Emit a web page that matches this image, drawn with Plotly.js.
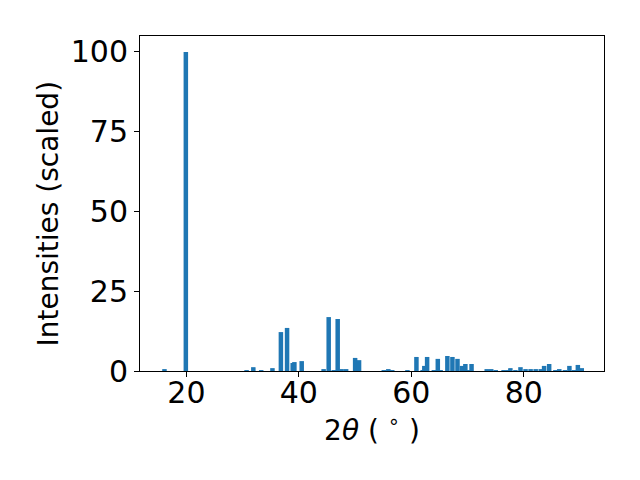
<!DOCTYPE html>
<html>
<head>
<meta charset="utf-8">
<script src="https://cdn.plot.ly/plotly-3.0.1.min.js"></script>
<style>html,body{margin:0;padding:0;background:#fff;}#chart{width:640px;height:480px;}</style>
</head>
<body>
<div id="chart"></div>
<script>
var twoTheta = [16.1, 19.9, 30.7, 31.9, 33.3, 35.3, 36.8, 37.9, 38.9, 39.2, 40.5, 44.4, 45.3, 46.2, 46.9, 47.6, 48.4, 50.0, 50.7, 55.1, 55.9, 56.6, 59.3, 60.9, 62.0, 62.3, 62.8, 64.0, 64.7, 65.2, 66.4, 67.3, 68.2, 69.0, 69.6, 70.1, 70.7, 73.4, 74.2, 75.0, 76.4, 77.1, 77.6, 78.5, 79.4, 80.3, 81.2, 82.1, 83.0, 83.6, 84.5, 85.6, 86.3, 87.3, 88.1, 88.9, 89.6, 90.3];
var intensities = [0.6, 100, 0.3, 1.2, 0.3, 0.9, 12.2, 13.5, 2.5, 2.8, 3.1, 0.6, 16.9, 0.3, 16.3, 0.6, 0.6, 4.1, 3.4, 0.3, 0.6, 0.3, 0.3, 4.4, 0.3, 1.6, 4.4, 0.3, 3.8, 0.3, 4.7, 4.4, 3.8, 1.6, 2.2, 0.3, 2.2, 0.6, 0.6, 0.3, 0.3, 0.3, 0.9, 0.3, 1.2, 0.6, 0.6, 0.6, 0.6, 1.6, 2.2, 0.3, 0.6, 0.3, 1.6, 0.3, 1.9, 0.9];
var xTicks = [20, 40, 60, 80];
var yTicks = [0, 25, 50, 75, 100];
var xLabel = '2<i>θ</i> ( <sup>∘</sup> )';
var yLabel = 'Intensities (scaled)';

var trace = {
  type: 'bar',
  x: twoTheta,
  y: intensities,
  width: 0.8,
  marker: {color: '#1f77b4', line: {width: 0}},
  hoverinfo: 'x+y'
};
var fontFam = 'DejaVu Sans, sans-serif';
var layout = {
  width: 640, height: 480,
  margin: {l: 140, r: 36, t: 36, b: 109, pad: 0},
  paper_bgcolor: '#fff', plot_bgcolor: '#fff',
  showlegend: false,
  barmode: 'overlay',
  font: {family: fontFam, color: '#000', size: 30},
  xaxis: {
    range: [11.75, 94.25],
    tickvals: xTicks, ticktext: xTicks.map(String),
    ticks: 'outside', ticklen: 5, tickwidth: 1, tickcolor: '#000',
    ticklabelstandoff: -10,
    showline: true, linecolor: '#000', linewidth: 1, mirror: true,
    showgrid: false, zeroline: false,
    tickfont: {size: 30, family: fontFam},
    title: {text: xLabel, font: {size: 28, family: fontFam}, standoff: 2}
  },
  yaxis: {
    range: [0, 105],
    tickvals: yTicks, ticktext: yTicks.map(String),
    ticks: 'outside', ticklen: 5, tickwidth: 1, tickcolor: '#000',
    showline: true, linecolor: '#000', linewidth: 1, mirror: true,
    showgrid: false, zeroline: false,
    tickfont: {size: 30, family: fontFam}
  },
  annotations: [{
    text: yLabel, xref: 'paper', yref: 'paper', x: 0, y: 0.5,
    xanchor: 'center', yanchor: 'middle', xshift: -92, yshift: -10,
    textangle: -90, showarrow: false,
    font: {size: 28, family: fontFam, color: '#000'}
  }]
};
Plotly.newPlot('chart', [trace], layout, {displayModeBar: false, staticPlot: true});
</script>
</body>
</html>
